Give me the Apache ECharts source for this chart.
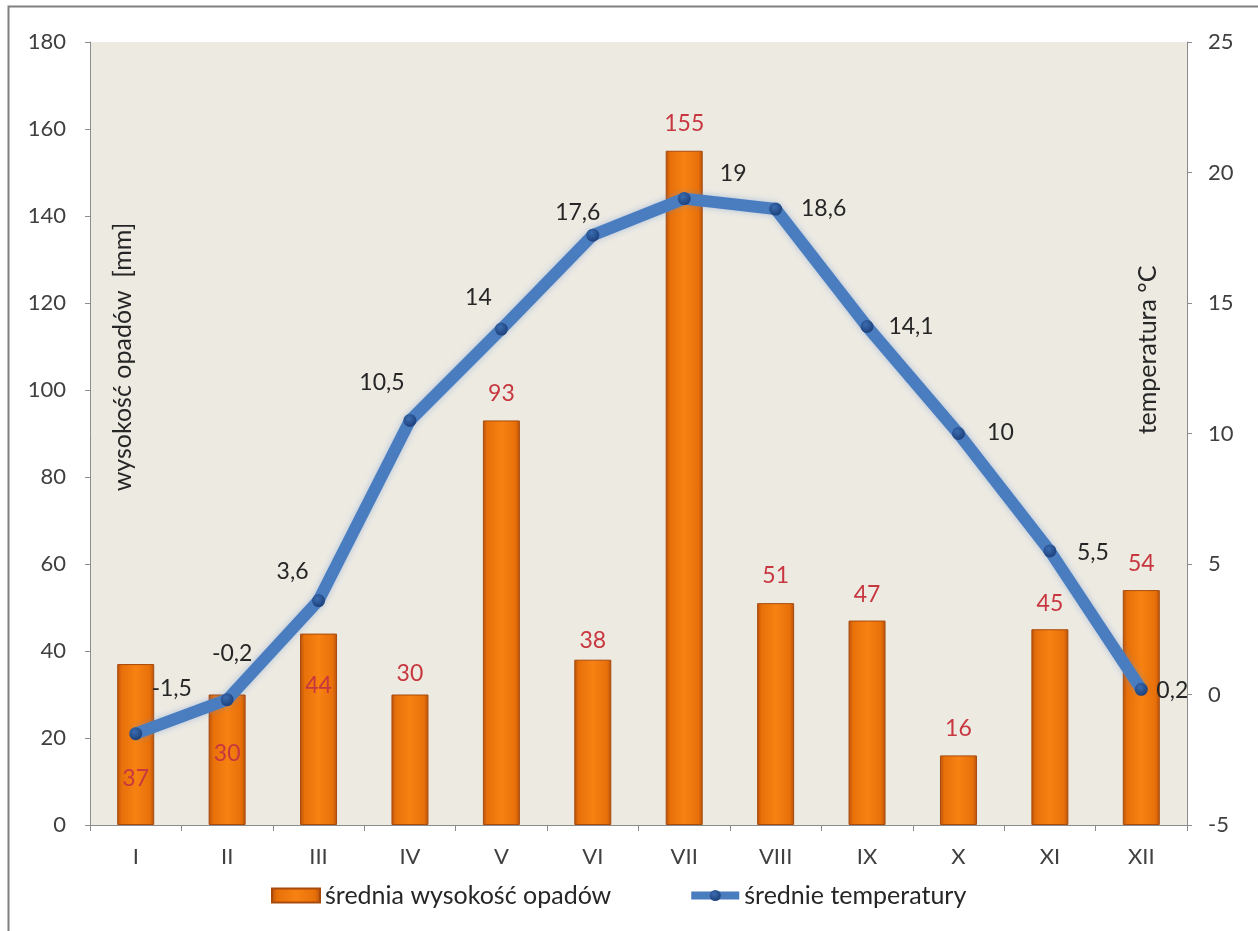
<!DOCTYPE html>
<html>
<head>
<meta charset="utf-8">
<script src="https://cdn.jsdelivr.net/npm/echarts@6/dist/echarts.min.js"></script>
<style>
html,body{margin:0;padding:0;background:#fff;}
#chart{width:1258px;height:931px;}
</style>
</head>
<body>
<div id="chart"></div>
<script>
// ---- data ----
var months = ['I','II','III','IV','V','VI','VII','VIII','IX','X','XI','XII'];
var precipitation = [37, 30, 44, 30, 93, 38, 155, 51, 47, 16, 45, 54];
var temperature = [-1.5, -0.2, 3.6, 10.5, 14, 17.6, 19, 18.6, 14.1, 10, 5.5, 0.2];
var leftTicks = [0, 20, 40, 60, 80, 100, 120, 140, 160, 180];
var rightTicks = [-5, 0, 5, 10, 15, 20, 25];
var seriesNames = ['średnia wysokość opadów', 'średnie temperatury'];
var axisTitles = ['wysokość opadów  [mm]', 'temperatura °C'];

// ---- label placement (style only) ----
var barLabelPlace = [
  {position:'insideBottom', distance:35},
  {position:'insideBottom', distance:60},
  {position:'insideBottom', distance:128},
  {position:'top', distance:9},
  {position:'top', distance:15},
  {position:'top', distance:8},
  {position:'top', distance:16},
  {position:'top', distance:16},
  {position:'top', distance:14},
  {position:'top', distance:15},
  {position:'top', distance:14},
  {position:'top', distance:15}
];
var tempLabelOffset = [
  [36,-45],[5,-46],[-26,-29],[-28,-38],[-23,-32],[-15,-23],
  [49,-25],[48,0],[44,0],[42,-1],[43,2],[31,1]
];

var FONT = 'Lato';
var fmt = function(v){ return String(v).replace('.', ','); };

var barGrad = new echarts.graphic.LinearGradient(0,0,1,0,[
  {offset:0, color:'#B8520C'},
  {offset:0.12, color:'#E8700A'},
  {offset:0.5, color:'#F78212'},
  {offset:0.88, color:'#E8700A'},
  {offset:1, color:'#B8520C'}
]);

var barData = precipitation.map(function(v,i){
  return {
    value: v,
    label: {position: barLabelPlace[i].position, distance: barLabelPlace[i].distance}
  };
});
var lineData = temperature.map(function(v,i){
  return {
    value: v,
    label: {position: 'inside', offset: tempLabelOffset[i]}
  };
});

var chart = echarts.init(document.getElementById('chart'), null, {renderer:'canvas'});
var axisLineStyle = {color:'#8C8C8C', width:1};
var option = {
  backgroundColor: '#ffffff',
  animation: false,
  textStyle: {fontFamily: FONT},
  grid: {
    left: 90, right: 71, top: 42, bottom: 106,
    show: true, backgroundColor: '#EDEAE2', borderWidth: 0
  },
  legend: {
    bottom: 18, left: 266,
    itemGap: 76, itemWidth: 48, itemHeight: 14,
    textStyle: {fontFamily: FONT, fontSize: 25, color:'#262626'},
    data: [
      {name: seriesNames[0], icon: 'rect'},
      {name: seriesNames[1], lineStyle: {width: 8, color:'#4A7DC0'}}
    ]
  },
  xAxis: {
    type: 'category',
    data: months,
    axisLine: {lineStyle: axisLineStyle},
    axisTick: {show: true, length: 6, lineStyle: axisLineStyle},
    axisLabel: {color:'#404040', fontSize: 22, margin: 21, fontFamily: FONT},
    splitLine: {show:false}
  },
  yAxis: [
    {
      type: 'value', min: leftTicks[0], max: leftTicks[leftTicks.length-1], interval: 20,
      axisLine: {show:true, lineStyle: axisLineStyle},
      axisTick: {show:true, length: 5, lineStyle: axisLineStyle},
      axisLabel: {color:'#404040', fontSize: 22, margin: 24, fontFamily: FONT},
      splitLine: {show:false}
    },
    {
      type: 'value', min: rightTicks[0], max: rightTicks[rightTicks.length-1], interval: 5,
      position: 'right',
      axisLine: {show:true, lineStyle: axisLineStyle},
      axisTick: {show:true, length: 5, lineStyle: axisLineStyle},
      axisLabel: {color:'#404040', fontSize: 22, margin: 21, fontFamily: FONT},
      splitLine: {show:false}
    }
  ],
  series: [
    {
      name: seriesNames[0],
      type: 'bar',
      yAxisIndex: 0,
      barWidth: 37,
      data: barData,
      itemStyle: {color: barGrad, borderColor: '#A84A0C', borderWidth: 1},
      label: {
        show: true, color: '#C8373F', fontSize: 23, fontFamily: FONT
      },
      z: 2
    },
    {
      name: seriesNames[1],
      type: 'line',
      yAxisIndex: 1,
      data: lineData,
      symbol: 'circle',
      symbolSize: 13,
      lineStyle: {color:'#4A7DC0', width: 12, shadowBlur: 6, shadowColor: 'rgba(90,140,210,0.45)'},
      itemStyle: {
        color: new echarts.graphic.RadialGradient(0.4,0.35,0.7,[
          {offset:0, color:'#3A6CB0'},
          {offset:1, color:'#1C3E78'}
        ]),
        borderWidth: 0
      },
      label: {
        show: true, color:'#262626', fontSize: 23, fontFamily: FONT,
        formatter: function(p){ return fmt(p.value); }
      },
      z: 3
    }
  ],
  graphic: [
    {
      type: 'rect', silent: true, z: 100,
      shape: {x: 8.5, y: 6.5, width: 1300, height: 1000},
      style: {fill: 'none', stroke: '#808080', lineWidth: 2}
    },
    {
      type: 'text', silent: true, z: 100,
      x: 123, y: 357, rotation: Math.PI/2,
      style: {text: axisTitles[0], fontFamily: FONT, fontSize: 25, fill:'#262626',
              align:'center', verticalAlign:'middle'}
    },
    {
      type: 'text', silent: true, z: 100,
      x: 1148, y: 350, rotation: Math.PI/2,
      style: {text: axisTitles[1], fontFamily: FONT, fontSize: 25, fill:'#262626',
              align:'center', verticalAlign:'middle'}
    }
  ]
};
chart.setOption(option);
</script>
</body>
</html>
